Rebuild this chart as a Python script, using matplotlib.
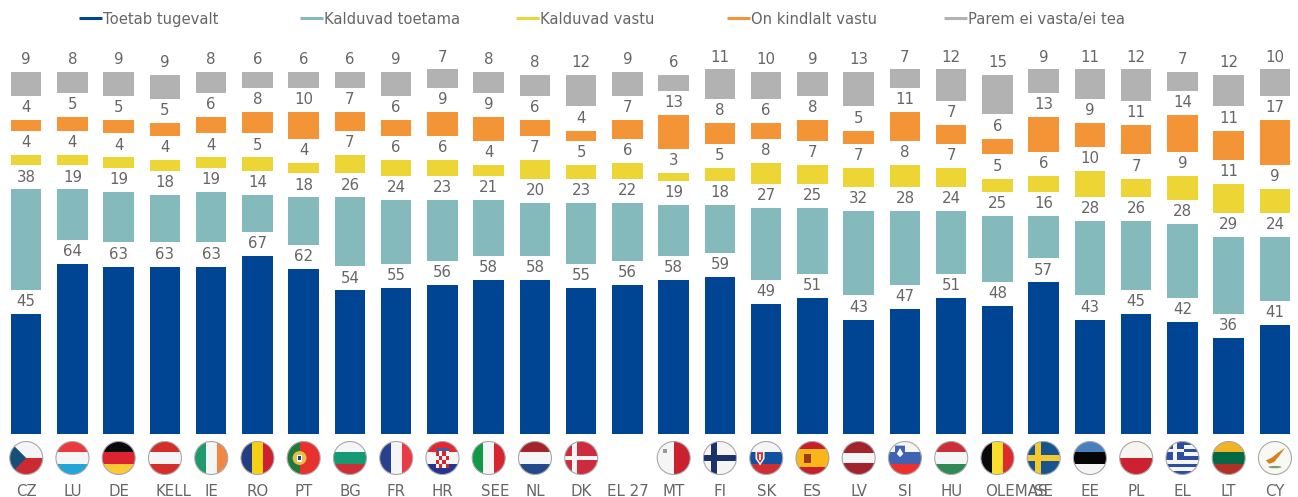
#!/usr/bin/env python3
import matplotlib
matplotlib.use('Agg')
import matplotlib.pyplot as plt
import numpy as np
from matplotlib.lines import Line2D
from matplotlib.patches import Circle, Rectangle, Polygon, Ellipse
from matplotlib.transforms import ScaledTranslation

# %% Data
countries = ['CZ', 'LU', 'DE', 'KELL', 'IE', 'RO', 'PT', 'BG', 'FR', 'HR', 'SEE', 'NL', 'DK', 'EL 27',
             'MT', 'FI', 'SK', 'ES', 'LV', 'SI', 'HU', 'OLEMAS', 'SE', 'EE', 'PL', 'EL', 'LT', 'CY']
flag_codes = ['CZ', 'LU', 'DE', 'AT', 'IE', 'RO', 'PT', 'BG', 'FR', 'HR', 'IT', 'NL', 'DK', None,
              'MT', 'FI', 'SK', 'ES', 'LV', 'SI', 'HU', 'BE', 'SE', 'EE', 'PL', 'GR', 'LT', 'CY']

series_names = ['Toetab tugevalt', 'Kalduvad toetama', 'Kalduvad vastu', 'On kindlalt vastu', 'Parem ei vasta/ei tea']
strong_for = [45, 64, 63, 63, 63, 67, 62, 54, 55, 56, 58, 58, 55, 56, 58, 59, 49, 51, 43, 47, 51, 48, 57, 43, 45, 42, 36, 41]
tend_for = [38, 19, 19, 18, 19, 14, 18, 26, 24, 23, 21, 20, 23, 22, 19, 18, 27, 25, 32, 28, 24, 25, 16, 28, 26, 28, 29, 24]
tend_against = [4, 4, 4, 4, 4, 5, 4, 7, 6, 6, 4, 7, 5, 6, 3, 5, 8, 7, 7, 8, 7, 5, 6, 10, 7, 9, 11, 9]
strong_against = [4, 5, 5, 5, 6, 8, 10, 7, 6, 9, 9, 6, 4, 7, 13, 8, 6, 8, 5, 11, 7, 6, 13, 9, 11, 14, 11, 17]
dont_know = [9, 8, 9, 9, 8, 6, 6, 6, 9, 7, 8, 8, 12, 9, 6, 11, 10, 9, 13, 7, 12, 15, 9, 11, 12, 7, 12, 10]

colors = ['#004494', '#84BABB', '#EDD536', '#F39537', '#B2B2B2']
legend_px = [79, 300, 516, 727, 944]
# the three translated labels sit off centre in the original
label_shift_px = {'KELL': 9, 'SEE': 7, 'OLEMAS': 19}

W, H = 1298, 497
TEXT = '#666666'
GAP = 9.1  # empty space between the stacked segments
PX_PER_UNIT = 2.65
BASE_PX = 433.5

plt.rcParams['font.family'] = ['DejaVu Sans']

# %% Bars
fig = plt.figure(figsize=(W / 100, H / 100), dpi=100)
ax = fig.add_axes([0, (H - BASE_PX) / H, 1, BASE_PX / H])
x = np.arange(len(countries))
ax.set_xlim(-26.2 / 46.25, (W - 26.2) / 46.25)
ax.set_ylim(0, BASE_PX / PX_PER_UNIT)

bottom = np.zeros(len(countries))
all_series = [strong_for, tend_for, tend_against, strong_against, dont_know]
for values, color in zip(all_series, colors):
    bars = ax.bar(x, values, width=30.5 / 46.25, bottom=bottom, color=color)
    ax.bar_label(bars, labels=[str(v) for v in values], padding=3.5, color=TEXT, fontsize=10.8)
    bottom = bottom + np.array(values) + GAP

ax.set_xticks(x, countries, color=TEXT, fontsize=10.8)
ax.tick_params(axis='x', length=0, pad=36)
ax.set_yticks([])
for s in ax.spines.values():
    s.set_visible(False)
ax.patch.set_alpha(0)
for lab in ax.get_xticklabels():
    shift = label_shift_px.get(lab.get_text(), 0)
    lab.set_transform(lab.get_transform() + ScaledTranslation(shift / 100, 0, fig.dpi_scale_trans))

# %% Legend
for px, name, color in zip(legend_px, series_names, colors):
    fig.add_artist(Line2D([px / W, (px + 23) / W], [1 - 18 / H] * 2, color=color, lw=2.2,
                          solid_capstyle='butt'))
    fig.text((px + 24) / W, 1 - 18 / H, name, color=TEXT, fontsize=10.6, va='center_baseline')


# %% Flags
def hbands(a, cols):
    n = len(cols)
    for k, c in enumerate(cols):
        a.add_patch(Rectangle((-1, 1 - 2 * (k + 1) / n), 2, 2 / n, color=c, lw=0))


def vbands(a, cols):
    n = len(cols)
    for k, c in enumerate(cols):
        a.add_patch(Rectangle((-1 + 2 * k / n, -1), 2 / n, 2, color=c, lw=0))


def nordic(a, bg, cross, cx=-0.35, w=0.3):
    a.add_patch(Rectangle((-1, -1), 2, 2, color=bg, lw=0))
    a.add_patch(Rectangle((cx - w / 2, -1), w, 2, color=cross, lw=0))
    a.add_patch(Rectangle((-1, -w / 2), 2, w, color=cross, lw=0))


def draw_flag(a, code):
    if code == 'CZ':
        hbands(a, ['#F5F5F5', '#CB2A33'])
        a.add_patch(Polygon([(-1, 1), (0, 0), (-1, -1)], color='#14507A', lw=0))
    elif code == 'LU':
        hbands(a, ['#EA3A3F', '#F5F5F5', '#22A5D8'])
    elif code == 'DE':
        hbands(a, ['#0A0A0A', '#DB2430', '#FBC933'])
    elif code == 'AT':
        hbands(a, ['#D42E2A', '#F5F5F5', '#D42E2A'])
    elif code == 'IE':
        vbands(a, ['#1E9A6C', '#F5F5F5', '#F28744'])
    elif code == 'RO':
        vbands(a, ['#233E82', '#F6D013', '#CE2030'])
    elif code == 'PT':
        a.add_patch(Rectangle((-1, -1), 2, 2, color='#E8302E', lw=0))
        a.add_patch(Rectangle((-1, -1), 0.75, 2, color='#1F7A3A', lw=0))
        a.add_patch(Circle((-0.25, 0), 0.42, color='#E5C14A', lw=0))
        a.add_patch(Rectangle((-0.42, -0.22), 0.34, 0.42, color='#F5F5F5', lw=0))
        a.add_patch(Rectangle((-0.32, -0.12), 0.14, 0.22, color='#1F3E8A', lw=0))
    elif code == 'BG':
        hbands(a, ['#F5F5F5', '#159A75', '#CE2E35'])
    elif code == 'FR':
        vbands(a, ['#27408F', '#F5F5F5', '#EA3A46'])
    elif code == 'HR':
        hbands(a, ['#E5282E', '#F5F5F5', '#24348F'])
        a.add_patch(Rectangle((-0.42, -0.6), 0.84, 1.0, color='#F5F5F5', lw=0))
        for r in range(4):
            for c in range(4):
                if (r + c) % 2 == 0:
                    a.add_patch(Rectangle((-0.42 + c * 0.21, 0.15 - r * 0.25), 0.21, 0.25,
                                          color='#D9242C', lw=0))
        a.add_patch(Rectangle((-0.42, 0.4), 0.84, 0.2, color='#3A62A8', lw=0))
    elif code == 'IT':
        vbands(a, ['#109A48', '#F5F5F5', '#D7252F'])
    elif code == 'NL':
        hbands(a, ['#A5242C', '#F5F5F5', '#23488C'])
    elif code == 'DK':
        nordic(a, '#CF2B3E', '#F5F5F5', cx=-0.4, w=0.28)
    elif code == 'MT':
        vbands(a, ['#F5F5F5', '#CB2030'])
        a.add_patch(Rectangle((-0.65, 0.3), 0.25, 0.25, color='#999999', lw=0))
    elif code == 'FI':
        nordic(a, '#F5F5F5', '#1C3168', cx=-0.35, w=0.36)
    elif code == 'SK':
        hbands(a, ['#F5F5F5', '#10529F', '#CF2E33'])
        a.add_patch(Polygon([(-0.65, 0.45), (-0.1, 0.45), (-0.1, -0.05), (-0.37, -0.45), (-0.65, -0.05)],
                            color='#F5F5F5', lw=0))
        a.add_patch(Polygon([(-0.55, 0.35), (-0.2, 0.35), (-0.2, -0.03), (-0.37, -0.3), (-0.55, -0.03)],
                            color='#D9282C', lw=0))
        a.add_patch(Rectangle((-0.41, -0.15), 0.08, 0.42, color='#F5F5F5', lw=0))
    elif code == 'ES':
        a.add_patch(Rectangle((-1, -1), 2, 2, color='#C8202B', lw=0))
        a.add_patch(Rectangle((-1, -0.52), 2, 1.04, color='#F7B61A', lw=0))
        a.add_patch(Rectangle((-0.5, -0.3), 0.4, 0.55, color='#9C3A1A', lw=0))
    elif code == 'LV':
        a.add_patch(Rectangle((-1, -1), 2, 2, color='#A1232E', lw=0))
        a.add_patch(Rectangle((-1, -0.3), 2, 0.6, color='#F5F5F5', lw=0))
    elif code == 'SI':
        hbands(a, ['#F5F5F5', '#3F63B0', '#EC2F2F'])
        a.add_patch(Polygon([(-0.6, 0.75), (0, 0.75), (0, 0.25), (-0.3, -0.1), (-0.6, 0.25)], color='#3F63B0', lw=0))
        a.add_patch(Polygon([(-0.5, 0.25), (-0.3, 0.6), (-0.1, 0.25), (-0.3, 0.05)], color='#F5F5F5', lw=0))
    elif code == 'HU':
        hbands(a, ['#CC2E3A', '#F5F5F5', '#2F8A55'])
    elif code == 'BE':
        vbands(a, ['#0A0A0A', '#FBDD2B', '#DF2A2E'])
    elif code == 'SE':
        nordic(a, '#17548F', '#F3C92E', cx=-0.35, w=0.36)
    elif code == 'EE':
        hbands(a, ['#4780BD', '#050505', '#F5F5F5'])
    elif code == 'PL':
        hbands(a, ['#F7F5F2', '#CD2130'])
    elif code == 'GR':
        n = 9
        hbands(a, ['#2D4EA0' if k % 2 == 0 else '#F5F5F5' for k in range(n)])
        a.add_patch(Rectangle((-1, 1 - 10 / n), 1.1, 10 / n, color='#2D4EA0', lw=0))
        a.add_patch(Rectangle((-0.58, 1 - 10 / n), 0.26, 10 / n, color='#F5F5F5', lw=0))
        a.add_patch(Rectangle((-1, 1 - 6 / n), 1.1, 2 / n, color='#F5F5F5', lw=0))
    elif code == 'LT':
        hbands(a, ['#F2B324', '#046A45', '#B23028'])
    elif code == 'CY':
        a.add_patch(Rectangle((-1, -1), 2, 2, color='#F8F8F5', lw=0))
        a.add_patch(Polygon([(-0.55, -0.15), (-0.15, 0.05), (0.15, 0.3), (0.62, 0.62), (0.2, 0.05),
                             (-0.05, -0.25), (-0.35, -0.35)], color='#D9801E', lw=0))
        a.add_patch(Ellipse((0, -0.55), 0.8, 0.14, color='#7E9B72', lw=0))


FLAG_R = 16.5
FLAG_Y = 458
fig.canvas.draw()
for pos, code in zip(x, flag_codes):
    if code is None:
        continue
    cx = ax.transData.transform((pos, 0))[0]
    a = fig.add_axes([(cx - FLAG_R - 1) / W, 1 - (FLAG_Y + FLAG_R + 1) / H,
                      (2 * FLAG_R + 2) / W, (2 * FLAG_R + 2) / H])
    a.set_xlim(-1.06, 1.06)
    a.set_ylim(-1.06, 1.06)
    a.axis('off')
    draw_flag(a, code)
    clip = Circle((0, 0), 1, transform=a.transData)
    for p in list(a.patches):
        p.set_clip_path(clip)
    a.add_patch(Circle((0, 0), 1, fill=False, ec='#A8A8A8', lw=0.8))

fig.savefig('out.png', dpi=100)
